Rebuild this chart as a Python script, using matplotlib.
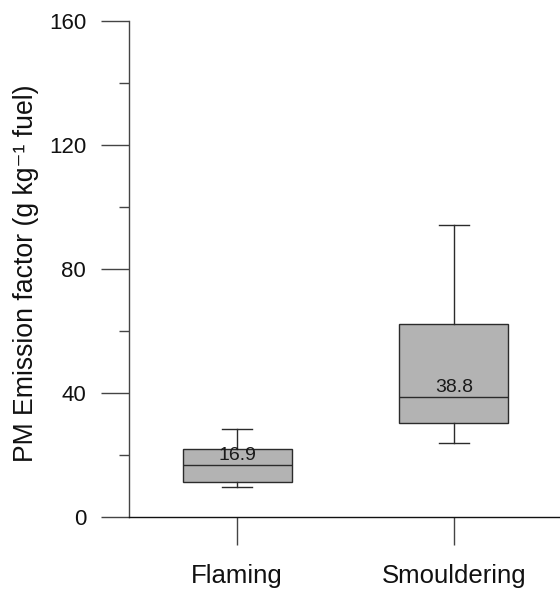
import matplotlib
matplotlib.use("Agg")
import matplotlib.pyplot as plt

plt.rcParams['font.family'] = ['Liberation Sans', 'DejaVu Sans']

categories = ["Flaming", "Smouldering"]
q1 = [11.5, 30.5]
median = [16.9, 38.8]
q3 = [21.9, 62.2]
whisker_low = [9.8, 24.0]
whisker_high = [28.4, 94.1]
median_labels = ["16.9", "38.8"]
yticks_major = [0, 40, 80, 120, 160]
yticks_minor = [20, 60, 100, 140]

fig = plt.figure(figsize=(5.6, 5.92), dpi=100)
ax = fig.add_axes([0.2298, 0.1262, 0.7702, 0.8383])

stats = []
for i, c in enumerate(categories):
    stats.append(dict(label=c, med=median[i], q1=q1[i], q3=q3[i],
                      whislo=whisker_low[i], whishi=whisker_high[i], fliers=[]))

edge = '#2b2b2b'
positions = [1, 2]
ax.bxp(stats, positions=positions, widths=0.503, patch_artist=True,
       showfliers=False, capwidths=0.138,
       boxprops=dict(facecolor='#b3b3b3', edgecolor=edge, linewidth=1.0),
       medianprops=dict(color=edge, linewidth=1.0),
       whiskerprops=dict(color=edge, linewidth=1.0),
       capprops=dict(color=edge, linewidth=1.0))

for p, m, lab in zip(positions, median, median_labels):
    ax.annotate(lab, xy=(p, m), xytext=(0, 3.2), textcoords='offset points',
                ha='center', va='baseline', fontsize=14, color='#1a1a1a')

ax.set_xlim(0.499, 2.49)
ax.set_ylim(0, 160)
ax.set_yticks(yticks_major)
ax.set_yticks(yticks_minor, minor=True)
ax.set_xticks(positions)
ax.set_xticklabels(categories)

for s in ['top', 'right']:
    ax.spines[s].set_visible(False)
ax.spines['left'].set_color('#444444')
ax.spines['bottom'].set_color('#111111')
ax.spines['left'].set_linewidth(1.0)
ax.spines['bottom'].set_linewidth(1.0)

ax.tick_params(axis='y', which='major', direction='out', length=20.2, width=1.0,
               color='#444444', labelsize=16, pad=10.5, labelcolor='#111111')
ax.tick_params(axis='y', which='minor', direction='out', length=7.2, width=1.0,
               color='#444444')
ax.tick_params(axis='x', which='major', direction='out', length=20.5, width=1.0,
               color='#444444', labelsize=18.5, pad=13, labelcolor='#111111')

fig.text(0.046, 0.538, "PM Emission factor (g kg\u207b\u00b9 fuel)", rotation=90,
         ha='center', va='center', fontsize=19.2, color='#111111')

fig.savefig("out.png", dpi=100)
